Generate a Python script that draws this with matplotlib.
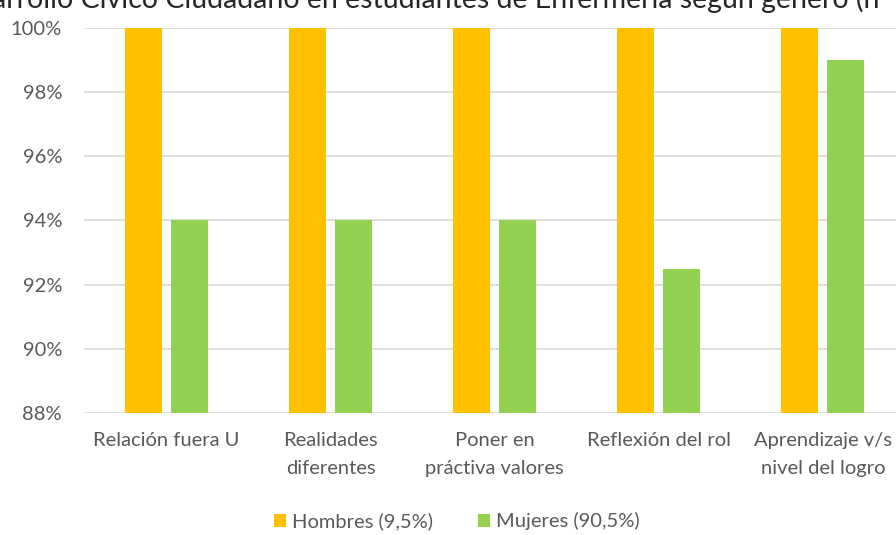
import numpy as np
import matplotlib
matplotlib.use('Agg')
import matplotlib.pyplot as plt

plt.rcParams['font.family'] = ['Lato', 'DejaVu Sans']

categorias = ['Relación fuera U', 'Realidades\ndiferentes', 'Poner en\npráctiva valores',
              'Reflexión del rol', 'Aprendizaje v/s\nnivel del logro']
hombres = [100, 100, 100, 100, 100]
mujeres = [94, 94, 94, 92.5, 99]
series = ['Hombres (9,5%)', 'Mujeres (90,5%)']
yticks = [88, 90, 92, 94, 96, 98, 100]
# the title is cut off on both sides in the original picture
titulo = 'Desarrollo Cívico Ciudadano en estudiantes de Enfermería según género (n'

fig = plt.figure(figsize=(8.96, 5.35), dpi=100)
ax = fig.add_axes([84.3/896, 122/535, 820.5/896, 385/535])

x = np.arange(len(categorias))
w = 0.223
ax.bar(x - 0.14, hombres, w, color='#FFC000', label=series[0], zorder=3)
ax.bar(x + 0.14, mujeres, w, color='#92D050', label=series[1], zorder=3)

ax.set_xlim(-0.5, len(categorias) - 0.5)
ax.set_ylim(88, 100)
ax.set_yticks(yticks)
ax.set_yticklabels([f'{t}%' for t in yticks])
ax.set_xticks(x)
ax.set_xticklabels(categorias, linespacing=1.75)
ax.grid(axis='y', color='#D9D9D9', linewidth=1.2, zorder=0)
for s in ax.spines.values():
    s.set_visible(False)
ax.tick_params(axis='both', length=0, colors='#595959', labelsize=14.5)
ax.tick_params(axis='y', pad=16)
ax.tick_params(axis='x', pad=14)

fig.text(-0.064, 1.002, titulo, ha='left', va='center', fontsize=20.5, color='#262626')

fig.legend(loc='lower center', bbox_to_anchor=(0.51, -0.025), ncol=2, frameon=False,
           fontsize=14.5, handlelength=0.6, handleheight=0.6, columnspacing=2.2,
           handletextpad=0.3, labelcolor='#595959')

fig.savefig('out.png', dpi=100)
